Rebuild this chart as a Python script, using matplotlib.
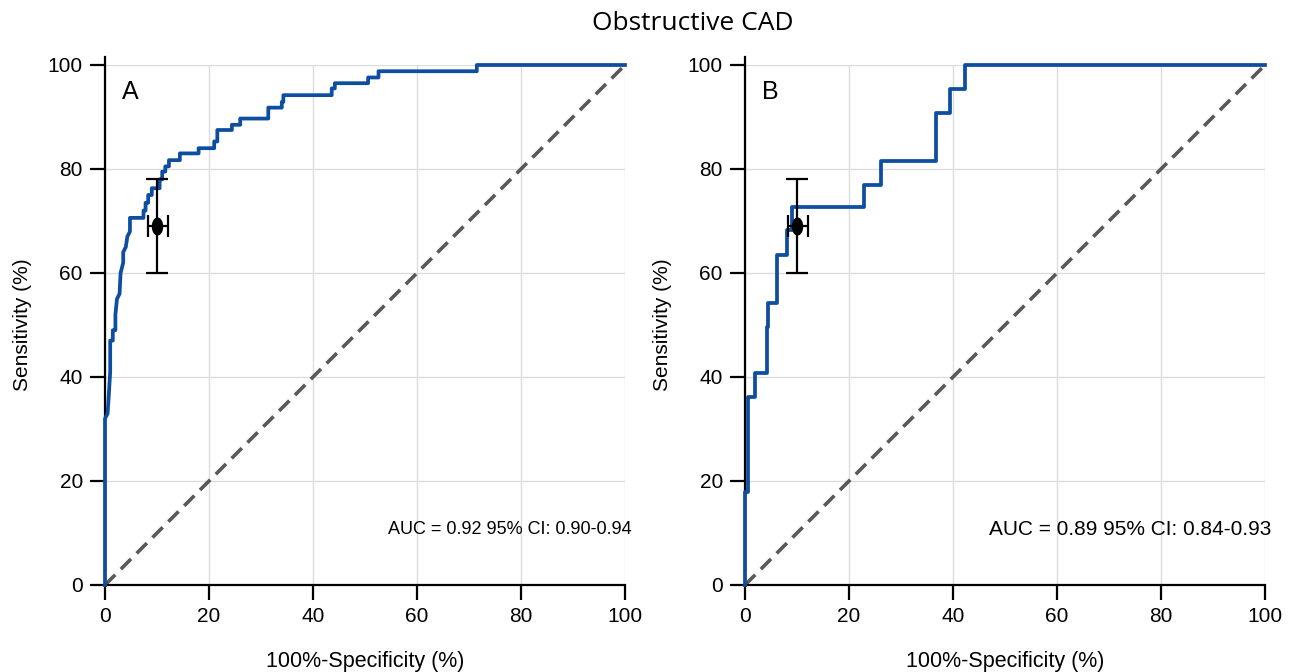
import numpy as np
import matplotlib.pyplot as plt
from matplotlib.path import Path

# ROC curve A (step points, x = 100-specificity, y = sensitivity)
fpr_a = [0, 0, 0.5, 0.7, 1.0, 1.0, 1.5, 1.5, 2.0, 2.0, 2.3, 2.8, 3.0, 3.5, 3.5, 4.0, 4.3, 4.8, 4.8,
         7.4, 7.4, 7.8, 7.8, 8.3, 8.3, 9.0, 9.0, 10.5, 10.5, 11.0, 11.0, 11.6, 11.6, 12.3, 12.3,
         14.4, 14.4, 18.0, 18.0, 21.0, 21.0, 21.6, 21.6, 24.4, 24.4, 26.0, 26.0, 31.4, 31.4,
         34.0, 34.0, 34.3, 34.3, 43.6, 43.6, 44.2, 44.2, 50.6, 50.6, 52.6, 52.6, 71.5, 71.5, 100]
tpr_a = [0, 32, 33, 36, 41, 47, 47, 49, 49, 52, 55, 56, 60, 62, 64, 65, 67, 68, 70.6,
         70.6, 72, 72, 73.5, 73.5, 75, 75, 76.3, 76.3, 78, 78, 79.5, 79.5, 80.5, 80.5, 81.7,
         81.7, 83, 83, 84, 84, 85.3, 85.3, 87.5, 87.5, 88.5, 88.5, 89.7, 89.7, 91.8,
         91.8, 92.9, 92.9, 94.2, 94.2, 95.5, 95.5, 96.5, 96.5, 97.6, 97.6, 98.8, 98.8, 100, 100]

# ROC curve B
fpr_b = [0, 0, 0.5, 0.5, 1.9, 1.9, 4.2, 4.2, 4.5, 4.5, 6.1, 6.1, 8.0, 8.0, 9.0, 9.0,
         22.9, 22.9, 26.2, 26.2, 36.7, 36.7, 39.4, 39.4, 42.3, 42.3, 100]
tpr_b = [0, 17.9, 17.9, 36.2, 36.2, 40.8, 40.8, 49.7, 49.7, 54.3, 54.3, 63.5, 63.5, 68.3, 68.3, 72.6,
         72.6, 76.9, 76.9, 81.5, 81.5, 90.7, 90.7, 95.3, 95.3, 100, 100]

# operating point with CI
pt_x, pt_y = 10, 69
x_lo, x_hi = 8.2, 12.1
y_lo, y_hi = 60, 78

labels = ['A', 'B']
auc_text = ['AUC = 0.92 95% CI: 0.90-0.94', 'AUC = 0.89 95% CI: 0.84-0.93']
auc_size = [13, 15]

plt.rcParams['font.family'] = ['Liberation Sans', 'DejaVu Sans']

# slightly tall ellipse marker
t = np.linspace(0, 2 * np.pi, 40)
ell = Path(np.column_stack([0.6 * np.cos(t), np.sin(t)]), closed=True)

fig = plt.figure(figsize=(12.91, 6.72), dpi=100)
boxes = [[105 / 1291, 87 / 672, 520 / 1291, 520 / 672],
         [745 / 1291, 87 / 672, 520 / 1291, 520 / 672]]

for i, (fx, fy) in enumerate([(fpr_a, tpr_a), (fpr_b, tpr_b)]):
    ax = fig.add_axes(boxes[i])
    ax.set_xlim(0, 100)
    ax.set_ylim(0, 100)
    ax.set_xticks(np.arange(0, 101, 20))
    ax.set_yticks(np.arange(0, 101, 20))
    ax.grid(True, color='#dcdcdc', lw=1)
    ax.set_axisbelow(True)
    for s in ['top', 'right']:
        ax.spines[s].set_visible(False)
    ax.spines['left'].set_linewidth(1.6)
    ax.spines['bottom'].set_linewidth(1.6)
    ax.spines['left'].set_bounds(0, 101.5)
    ax.tick_params(direction='out', length=11, width=1.6, labelsize=15, pad=5)

    ax.plot([0, 100], [0, 100], color='#595959', lw=2.6, ls=(0, (4, 2.2)), zorder=2)
    ax.plot(fx, fy, color='#0d4ea0', lw=2.7, zorder=3, clip_on=False)
    ax.errorbar([pt_x], [pt_y], xerr=[[pt_x - x_lo], [x_hi - pt_x]],
                yerr=[[pt_y - y_lo], [y_hi - pt_y]], fmt='none', ecolor='black',
                elinewidth=1.6, capsize=8, capthick=1.6, zorder=4)
    ax.plot([pt_x], [pt_y], marker=ell, color='black', ms=12, zorder=5)

    ax.text(3.2, 94.8, labels[i], fontsize=18, va='center', ha='left')
    ax.text(101.3, 10.6, auc_text[i], fontsize=auc_size[i], va='center', ha='right')
    ax.set_xlabel('100%-Specificity (%)', fontsize=15.5, labelpad=18)
    ax.set_ylabel('Sensitivity (%)', fontsize=15, labelpad=11)

fig.text(693 / 1291, 1 - 23 / 672, 'Obstructive CAD', fontsize=19,
         family=['Open Sans', 'DejaVu Sans'], ha='center', va='center')

fig.savefig('out.png', dpi=100)
